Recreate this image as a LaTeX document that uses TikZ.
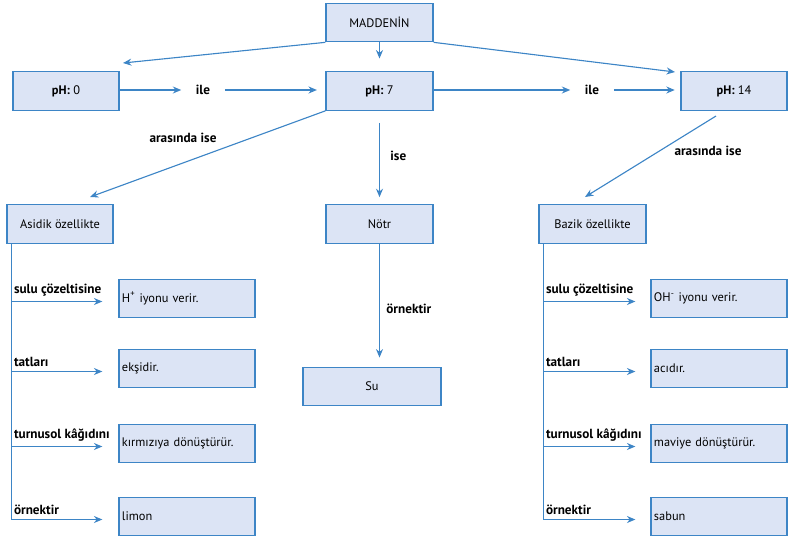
\documentclass[tikz,border=0pt]{standalone}
\usepackage{fontspec}
\setmainfont{PT Sans}
\usepackage{tikz}
\usetikzlibrary{arrows.meta,positioning}
\definecolor{kenar}{RGB}{61,133,198}
\definecolor{dolgu}{RGB}{220,228,245}
\tikzset{
  kutu/.style={draw=kenar,fill=dolgu,line width=0.9pt,minimum width=2.675cm,minimum height=0.96cm,inner sep=2pt},
  cevap/.style={kutu,minimum width=3.4cm,text width=3.25cm,align=left},
  ok/.style={draw=kenar,line width=0.8pt,-{Stealth[length=6pt,width=5pt]}},
  etiket/.style={font=\fontsize{9.4}{11}\selectfont\bfseries,inner sep=1.5pt}
}
\begin{document}
\begin{tikzpicture}[x=0.025cm,y=-0.025cm,font=\fontsize{8.8}{10}\selectfont]
%
\useasboundingbox (0,0) rectangle (800,542);
%
\node[kutu] (madde) at (379.5,22.5) {MADDENİN};
\node[kutu,minimum width=2.65cm] (ph0) at (66,91) {\textbf{pH:} 0};
\node[kutu] (ph7) at (379.5,91) {\textbf{pH:} 7};
\node[kutu,minimum width=2.65cm] (ph14) at (734,91) {\textbf{pH:} 14};
\node[kutu,minimum width=2.65cm] (asit) at (60,224) {Asidik özellikte};
\node[kutu] (notr) at (379.5,224) {Nötr};
\node[kutu] (baz) at (592.5,224) {Bazik özellikte};
\node[kutu,minimum width=3.45cm] (su) at (372,386.5) {Su};
%
\node[cevap] (a1) at (187,298.5) {H\textsuperscript{+} iyonu verir.};
\node[cevap] (a2) at (187,368.5) {ekşidir.};
\node[cevap] (a3) at (187,443.5) {kırmızıya dönüştürür.};
\node[cevap] (a4) at (187,516.5) {limon};
\node[cevap] (b1) at (719,298.5) {OH\textsuperscript{-} iyonu verir.};
\node[cevap] (b2) at (719,368.5) {acıdır.};
\node[cevap] (b3) at (719,443.5) {maviye dönüştürür.};
\node[cevap] (b4) at (719,516.5) {sabun};
%
\node[etiket,inner xsep=0.36cm] (ile1) at (203,90) {ile};
\node[etiket,inner xsep=0.36cm] (ile2) at (592,90) {ile};
\node[etiket] (ara1) at (183,138) {arasında ise};
\node[etiket] (ara2) at (708,151) {arasında ise};
\node[etiket,anchor=west] (ise) at (388,156) {ise};
\node[etiket,anchor=west] (ornek) at (384,309) {örnektir};
%
\coordinate (m0) at (123,63);
\coordinate (m14) at (675,72);
\coordinate (as) at (90,197);
\coordinate (bs) at (585,197);
\coordinate (p14) at (716,116);
%
\draw[ok] (madde.south west) -- (m0);
\draw[ok,shorten >=9pt] (madde) -- (ph7);
\draw[ok] (madde.south east) -- (m14);
\draw[ok] (ph0.east |- ile1) -- (ile1);
\draw[ok,shorten >=6pt] (ile1) -- (ph7.west |- ile1);
\draw[ok] (ph7.east |- ile2) -- (ile2);
\draw[ok,shorten >=4pt] (ile2) -- (ph14.west |- ile2);
\draw[ok] (ph7.south west) -- (as);
\draw[ok,shorten <=8.5pt,shorten >=5pt] (ph7) -- (notr);
\draw[ok] (p14) -- (bs);
\draw[ok,shorten >=6.5pt] (notr.south) -- (notr.south |- su.north);
%
\path (asit.south west) ++(5,0) coordinate (asol);
\path (baz.south west) ++(5,0) coordinate (bsol);
\foreach \k/\t in {1/sulu çözeltisine,2/tatları,3/turnusol kâğıdını,4/örnektir}{
  \draw[ok] (asol) |- node[etiket,pos=0.5,anchor=south west,inner ysep=3pt] {\t} ([shift={(-16,3)}]a\k.west);
  \draw[ok] (bsol) |- node[etiket,pos=0.5,anchor=south west,inner ysep=3pt] {\t} ([shift={(-15,3)}]b\k.west);
}
%
\end{tikzpicture}
\end{document}
